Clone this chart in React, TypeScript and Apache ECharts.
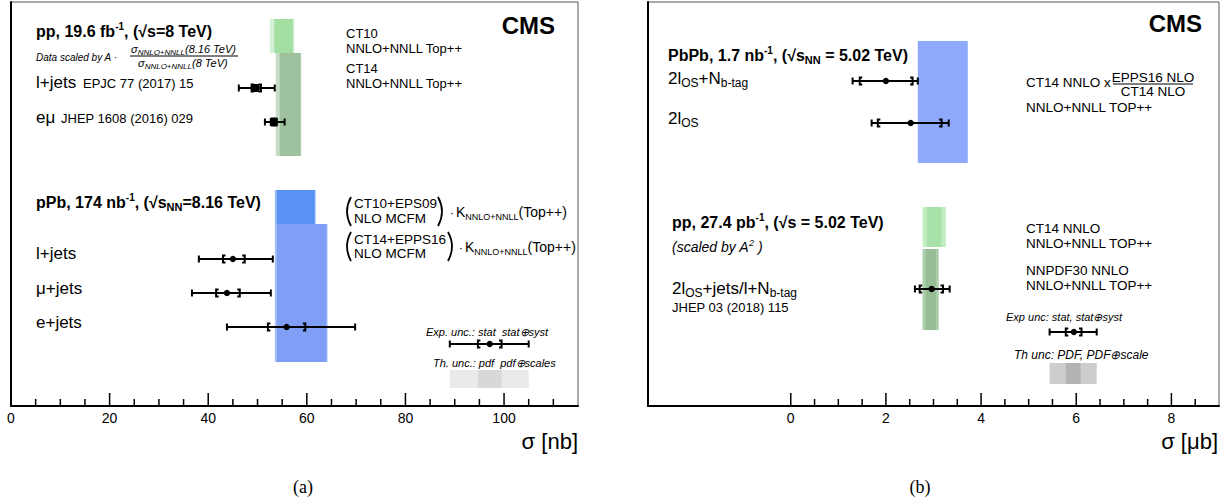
import React, { useEffect, useRef } from 'react';
import * as echarts from 'echarts';

const FONT = '"Liberation Sans", Arial, Helvetica, sans-serif';
const SERIF = '"Liberation Serif", "Times New Roman", serif';

// ---------------- panel (a): sigma(tt) in nb ----------------
const aTickMajor = [0, 20, 40, 60, 80, 100];
const aTickMinor = [5, 10, 15, 25, 30, 35, 45, 50, 55, 65, 70, 75, 85, 90, 95, 105, 110];

// pp at 8 TeV, scaled to 8.16 TeV
const ppLabels = ['l+jets', 'eμ'];
const ppRefs = ['EPJC 77 (2017) 15', 'JHEP 1608 (2016) 029'];
const ppCentral = [49.6, 53.3];
const ppStat = [[48.8, 50.7], [52.9, 53.8]];
const ppTotal = [[46.2, 53.5], [51.5, 55.5]];

// pPb at 8.16 TeV
const pPbLabels = ['l+jets', 'μ+jets', 'e+jets'];
const pPbCentral = [45.0, 43.8, 55.9];
const pPbStat = [[43.0, 47.4], [41.6, 46.4], [52.1, 59.7]];
const pPbTotal = [[38.1, 53.1], [36.7, 52.7], [43.8, 69.8]];

// theory: pp (CT10, CT14) and pPb (CT10+EPS09, CT14+EPPS16)
const ppTheoryPdf = [[53.4, 57.2], [54.5, 58.7]];
const ppTheoryTotal = [[52.5, 57.5], [53.7, 58.9]];
const pPbTheoryPdf = [[53.9, 61.6], [53.9, 64.0]];
const pPbTheoryTotal = [[53.5, 61.8], [53.5, 64.2]];

// legend glyphs
const aExpLegend = { central: 97.1, stat: [94.7, 99.5], total: [89.0, 105.0] };
const aThLegend = { pdf: [94.7, 99.5], total: [89.0, 105.0] };

// ---------------- panel (b): sigma(tt) in μb ----------------
const bTickMajor = [0, 2, 4, 6, 8];
const bTickMinor = [0.5, 1, 1.5, 2.5, 3, 3.5, 4.5, 5, 5.5, 6.5, 7, 7.5, 8.5];

// PbPb at 5.02 TeV
const pbpbCentral = [2.0, 2.52];
const pbpbStat = [[1.45, 2.56], [1.83, 3.17]];
const pbpbTotal = [[1.3, 2.67], [1.7, 3.32]];
const pbpbTheory = [2.67, 3.72];

// pp at 5.02 TeV scaled by A^2
const pp5Central = [2.96];
const pp5Stat = [[2.71, 3.2]];
const pp5Total = [[2.61, 3.34]];
const pp5TheoryPdf = [[2.86, 3.17], [2.84, 3.05]];
const pp5TheoryTotal = [[2.77, 3.26], [2.77, 3.11]];

const bExpLegend = { central: 5.95, stat: [5.78, 6.11], total: [5.44, 6.43] };
const bThLegend = { pdf: [5.78, 6.09], total: [5.44, 6.43] };

// ---------------- layout (page rows, px) ----------------
const AXIS_Y = 406;
const aRowsPP = [88, 122];
const aRowsPPb = [259, 293, 327];
const aBandsPP = [[19, 53], [53, 156]];
const aBandsPPb = [[190, 224], [224, 362]];
const aExpRow = 344;
const aThRow = [370, 388];

const bRowsPbPb = [81, 123];
const bBandPbPb = [41, 163];
const bRowsPP = [289];
const bBandsPP = [[207, 247], [249, 330]];
const bExpRow = 332;
const bThRow = [363, 384];

// colours
const C = {
  ct10: ['#d5f1d5', '#a3dfa3'],
  ct14: ['#c8dcc8', '#9dc19d'],
  eps09: ['#9dbdf6', '#5892f2'],
  epps16: ['#adc1f9', '#7f9ff7'],
  pbpb: '#8ea8fb',
  ct14b: ['#c4edc4', '#a8e2a8'],
  nnpdf: ['#abcdab', '#96bd96'],
  thA: ['#eaeaea', '#d8d8d8'],
  thB: ['#cdcdcd', '#b3b3b3'],
};

const bandItem = (lo: number, hi: number, rows: number[], color: string) => ({
  value: [lo, hi, rows[0], rows[1]],
  itemStyle: { color },
});

const barItem = (central: number, stat: number[], total: number[], y: number) => [
  central, stat[0], stat[1], total[0], total[1], y,
];

const renderBand = (params: any, api: any) => {
  const p0 = api.coord([api.value(0), api.value(2)]);
  const p1 = api.coord([api.value(1), api.value(3)]);
  return {
    type: 'rect',
    shape: {
      x: Math.min(p0[0], p1[0]),
      y: Math.min(p0[1], p1[1]),
      width: Math.abs(p1[0] - p0[0]),
      height: Math.abs(p1[1] - p0[1]),
    },
    style: { fill: api.visual('color') },
  };
};

const renderBar = (marker: 'circle' | 'square') => (params: any, api: any) => {
  const y = api.value(5);
  const c = api.coord([api.value(0), y]);
  const sl = api.coord([api.value(1), y])[0];
  const sh = api.coord([api.value(2), y])[0];
  const tl = api.coord([api.value(3), y])[0];
  const th = api.coord([api.value(4), y])[0];
  const yy = c[1];
  const h = 3.5;
  const s = 2.5;
  const ls = { stroke: '#000', lineWidth: 2, fill: 'none' };
  const children: any[] = [
    { type: 'line', shape: { x1: tl, y1: yy, x2: th, y2: yy }, style: ls },
    { type: 'line', shape: { x1: tl, y1: yy - h, x2: tl, y2: yy + h }, style: ls },
    { type: 'line', shape: { x1: th, y1: yy - h, x2: th, y2: yy + h }, style: ls },
    { type: 'polyline', shape: { points: [[sl + s, yy - h], [sl, yy - h], [sl, yy + h], [sl + s, yy + h]] }, style: ls },
    { type: 'polyline', shape: { points: [[sh - s, yy - h], [sh, yy - h], [sh, yy + h], [sh - s, yy + h]] }, style: ls },
  ];
  if (marker === 'circle') {
    children.push({ type: 'circle', shape: { cx: c[0], cy: yy, r: 3.2 }, style: { fill: '#000' } });
  } else {
    children.push({ type: 'rect', shape: { x: c[0] - 4, y: yy - 4, width: 8, height: 8 }, style: { fill: '#000' } });
  }
  return { type: 'group', children };
};

const renderTick = (params: any, api: any) => {
  const p = api.coord([api.value(0), api.value(1)]);
  return {
    type: 'line',
    shape: { x1: p[0], y1: p[1], x2: p[0], y2: p[1] - api.value(2) },
    style: { stroke: '#000', lineWidth: 1.5 },
  };
};

const bandSeries = (grid: number, data: any[]) => ({
  type: 'custom', xAxisIndex: grid, yAxisIndex: grid, z: 2, silent: true,
  encode: { x: [0, 1], y: [2, 3] }, renderItem: renderBand, data,
});
const barSeries = (grid: number, marker: 'circle' | 'square', data: any[]) => ({
  type: 'custom', xAxisIndex: grid, yAxisIndex: grid, z: 5, silent: true,
  encode: { x: [0, 3, 4], y: 5 }, renderItem: renderBar(marker), data,
});
const tickSeries = (grid: number, values: number[], len: number) => ({
  type: 'custom', xAxisIndex: grid, yAxisIndex: grid, z: 6, silent: true,
  encode: { x: 0, y: 1 }, renderItem: renderTick,
  data: values.map((v) => [v, AXIS_Y, len]),
});

// ---------------- text helpers ----------------
const rs = (size: number, o: any = {}) => ({
  fontSize: size,
  fontFamily: FONT,
  fontWeight: o.bold ? 'bold' : 'normal',
  fontStyle: o.italic ? 'italic' : 'normal',
  fill: '#000',
  verticalAlign: o.va || 'middle',
  lineHeight: o.lh || Math.round(size * 1.25),
});

const RICH = {
  b: rs(16, { bold: true, lh: 20 }),
  bsup: rs(10, { bold: true, va: 'top', lh: 11 }),
  bsub: rs(11, { bold: true, va: 'bottom', lh: 12 }),
  n: rs(17, { lh: 22 }),
  nsub: rs(12, { va: 'bottom', lh: 12 }),
  i: rs(11, { italic: true, lh: 14 }),
  isub: rs(8, { italic: true, va: 'bottom', lh: 9 }),
  it: rs(14, { italic: true, lh: 18 }),
  itsup: rs(9, { italic: true, va: 'top', lh: 9 }),
  k: rs(14, { lh: 18 }),
  ks: rs(9, { va: 'bottom', lh: 10 }),
};

const text = (x: number, y: number, t: string, o: any = {}) => ({
  type: 'text',
  x,
  y,
  silent: true,
  z: 20,
  style: {
    text: t,
    fill: '#000',
    fontSize: o.size || 13,
    fontWeight: o.bold ? 'bold' : 'normal',
    fontStyle: o.italic ? 'italic' : 'normal',
    fontFamily: o.family || FONT,
    align: o.align || 'left',
    verticalAlign: 'middle',
    textAlign: o.align || 'left',
    textVerticalAlign: 'middle',
    rich: RICH,
  },
});

const hline = (x1: number, x2: number, y: number) => ({
  type: 'line', silent: true, z: 20,
  shape: { x1, y1: y, x2, y2: y },
  style: { stroke: '#000', lineWidth: 1 },
});

// tall round bracket spanning two text lines; dir -1 opens right "(", +1 opens left ")"
const paren = (x: number, top: number, bottom: number, dir: number) => ({
  type: 'bezierCurve', silent: true, z: 20,
  shape: { x1: x, y1: top, x2: x, y2: bottom, cpx1: x + dir * 8, cpy1: (top + bottom) / 2 },
  style: { stroke: '#000', lineWidth: 1.8, fill: 'none' },
});

function buildOption() {
  const aBands = [
    bandItem(ppTheoryTotal[0][0], ppTheoryTotal[0][1], aBandsPP[0], C.ct10[0]),
    bandItem(ppTheoryPdf[0][0], ppTheoryPdf[0][1], aBandsPP[0], C.ct10[1]),
    bandItem(ppTheoryTotal[1][0], ppTheoryTotal[1][1], aBandsPP[1], C.ct14[0]),
    bandItem(ppTheoryPdf[1][0], ppTheoryPdf[1][1], aBandsPP[1], C.ct14[1]),
    bandItem(pPbTheoryTotal[0][0], pPbTheoryTotal[0][1], aBandsPPb[0], C.eps09[0]),
    bandItem(pPbTheoryPdf[0][0], pPbTheoryPdf[0][1], aBandsPPb[0], C.eps09[1]),
    bandItem(pPbTheoryTotal[1][0], pPbTheoryTotal[1][1], aBandsPPb[1], C.epps16[0]),
    bandItem(pPbTheoryPdf[1][0], pPbTheoryPdf[1][1], aBandsPPb[1], C.epps16[1]),
    bandItem(aThLegend.total[0], aThLegend.total[1], aThRow, C.thA[0]),
    bandItem(aThLegend.pdf[0], aThLegend.pdf[1], aThRow, C.thA[1]),
  ];
  const aPP = ppCentral.map((c, i) => barItem(c, ppStat[i], ppTotal[i], aRowsPP[i]));
  const aPPb = pPbCentral.map((c, i) => barItem(c, pPbStat[i], pPbTotal[i], aRowsPPb[i]));
  aPPb.push(barItem(aExpLegend.central, aExpLegend.stat, aExpLegend.total, aExpRow));

  const bBands = [
    bandItem(pbpbTheory[0], pbpbTheory[1], bBandPbPb, C.pbpb),
    bandItem(pp5TheoryTotal[0][0], pp5TheoryTotal[0][1], bBandsPP[0], C.ct14b[0]),
    bandItem(pp5TheoryPdf[0][0], pp5TheoryPdf[0][1], bBandsPP[0], C.ct14b[1]),
    bandItem(pp5TheoryTotal[1][0], pp5TheoryTotal[1][1], bBandsPP[1], C.nnpdf[0]),
    bandItem(pp5TheoryPdf[1][0], pp5TheoryPdf[1][1], bBandsPP[1], C.nnpdf[1]),
    bandItem(bThLegend.total[0], bThLegend.total[1], bThRow, C.thB[0]),
    bandItem(bThLegend.pdf[0], bThLegend.pdf[1], bThRow, C.thB[1]),
  ];
  const bBars = pbpbCentral.map((c, i) => barItem(c, pbpbStat[i], pbpbTotal[i], bRowsPbPb[i]));
  pp5Central.forEach((c, i) => bBars.push(barItem(c, pp5Stat[i], pp5Total[i], bRowsPP[i])));
  bBars.push(barItem(bExpLegend.central, bExpLegend.stat, bExpLegend.total, bExpRow));

  const axisLabel = { color: '#000', fontSize: 14, fontFamily: FONT, margin: 5 };
  const xBase = {
    type: 'value',
    axisLine: { show: true, onZero: false, lineStyle: { color: '#000', width: 2 } },
    axisTick: { show: false },
    splitLine: { show: false },
  };
  const yBase = {
    type: 'value', min: 2, max: AXIS_Y, inverse: true,
    axisLine: { show: true, onZero: false, lineStyle: { color: '#000', width: 2 } },
    axisTick: { show: false }, axisLabel: { show: false }, splitLine: { show: false },
  };

  const graphics: any[] = [
    // panel (a)
    text(36, 31, '{b|pp, 19.6 fb}{bsup|-1}{b|, (√s=8 TeV)}'),
    text(36, 57, 'Data scaled by A ·', { size: 10, italic: true }),
    text(131, 49, '{i|σ}{isub|NNLO+NNLL}{i|(8.16 TeV)}'),
    hline(130, 238, 56),
    text(138, 63, '{i|σ}{isub|NNLO+NNLL}{i|(8 TeV)}'),
    text(36, aRowsPP[0] - 6, ppLabels[0], { size: 17 }),
    text(83, aRowsPP[0] - 5, ppRefs[0], { size: 13 }),
    text(36, aRowsPP[1] - 5, ppLabels[1], { size: 17 }),
    text(61, aRowsPP[1] - 4, ppRefs[1], { size: 13 }),
    text(346, 33, 'CT10', { size: 13 }),
    text(346, 48, 'NNLO+NNLL Top++', { size: 13 }),
    text(346, 68, 'CT14', { size: 13 }),
    text(346, 83, 'NNLO+NNLL Top++', { size: 13 }),
    text(555, 25, 'CMS', { size: 24, bold: true, align: 'right' }),
    text(36, 202, '{b|pPb, 174 nb}{bsup|-1}{b|, (√s}{bsub|NN}{b|=8.16 TeV)}'),
    text(36, aRowsPPb[0] - 6, pPbLabels[0], { size: 17 }),
    text(36, aRowsPPb[1] - 5, pPbLabels[1], { size: 17 }),
    text(36, aRowsPPb[2] - 5, pPbLabels[2], { size: 17 }),
    paren(351, 197, 226, -1),
    text(354, 203, 'CT10+EPS09', { size: 13.5 }),
    text(354, 218, 'NLO MCFM', { size: 13.5 }),
    paren(438, 197, 226, 1),
    text(450, 213, '·', { size: 12 }),
    text(456, 212, '{k|K}{ks|NNLO+NNLL}{k|(Top++)}'),
    paren(351, 232, 261, -1),
    text(354, 239, 'CT14+EPPS16', { size: 13.5 }),
    text(354, 253, 'NLO MCFM', { size: 13.5 }),
    paren(448, 232, 261, 1),
    text(459, 248, '·', { size: 12 }),
    text(465, 247, '{k|K}{ks|NNLO+NNLL}{k|(Top++)}'),
    text(426, 332, 'Exp. unc.: stat  stat⊕syst', { size: 11, italic: true }),
    text(433, 363, 'Th. unc.: pdf  pdf⊕scales', { size: 11, italic: true }),
    text(578, 441, 'σ [nb]', { size: 22, align: 'right' }),
    text(303, 487, '(a)', { size: 18, family: SERIF, align: 'center' }),

    // panel (b)
    text(1202, 23, 'CMS', { size: 24, bold: true, align: 'right' }),
    text(668, 55, '{b|PbPb, 1.7 nb}{bsup|-1}{b|, (√s}{bsub|NN}{b| = 5.02 TeV)}'),
    text(668, bRowsPbPb[0] - 3, '{n|2l}{nsub|OS}{n|+N}{nsub|b-tag}'),
    text(668, bRowsPbPb[1] - 5, '{n|2l}{nsub|OS}'),
    text(1026, 82, 'CT14 NNLO x', { size: 13.5 }),
    text(1153, 77, 'EPPS16 NLO', { size: 13.5, align: 'center' }),
    hline(1113, 1193, 84),
    text(1153, 91, 'CT14 NLO', { size: 13.5, align: 'center' }),
    text(1026, 107, 'NNLO+NNLL TOP++', { size: 13.5 }),
    text(672, 222, '{b|pp, 27.4 pb}{bsup|-1}{b|, (√s = 5.02 TeV)}'),
    text(672, 247, '{it|(scaled by A}{itsup|2}{it| )}'),
    text(672, bRowsPP[0] - 1, '{n|2l}{nsub|OS}{n|+jets/l+N}{nsub|b-tag}'),
    text(672, 307, 'JHEP 03 (2018) 115', { size: 13 }),
    text(1026, 228, 'CT14 NNLO', { size: 13.5 }),
    text(1026, 243, 'NNLO+NNLL TOP++', { size: 13.5 }),
    text(1026, 270, 'NNPDF30 NNLO', { size: 13.5 }),
    text(1026, 285, 'NNLO+NNLL TOP++', { size: 13.5 }),
    text(1006, 317, 'Exp unc: stat, stat⊕syst', { size: 11, italic: true }),
    text(1014, 355, 'Th unc: PDF, PDF⊕scale', { size: 12, italic: true }),
    text(1218, 441, 'σ [μb]', { size: 22, align: 'right' }),
    text(920, 487, '(b)', { size: 18, family: SERIF, align: 'center' }),
  ];

  return {
    animation: false,
    backgroundColor: '#fff',
    grid: [
      { left: 11, top: 2, width: 567, height: 404, show: true, borderColor: '#555', borderWidth: 1, containLabel: false },
      { left: 648, top: 2, width: 571, height: 404, show: true, borderColor: '#555', borderWidth: 1, containLabel: false },
    ],
    xAxis: [
      {
        ...xBase, gridIndex: 0, min: 0, max: 115, interval: 20,
        axisLabel: { ...axisLabel, showMaxLabel: false },
      },
      {
        ...xBase, gridIndex: 1, min: -3, max: 9, interval: 1,
        axisLabel: {
          ...axisLabel,
          formatter: (v: number) => (v >= 0 && v <= 8 && Math.round(v) % 2 === 0 ? String(v) : ''),
        },
      },
    ],
    yAxis: [
      { ...yBase, gridIndex: 0 },
      { ...yBase, gridIndex: 1 },
    ],
    series: [
      bandSeries(0, aBands),
      barSeries(0, 'square', aPP),
      barSeries(0, 'circle', aPPb),
      tickSeries(0, aTickMajor, 13),
      tickSeries(0, aTickMinor, 7),
      bandSeries(1, bBands),
      barSeries(1, 'circle', bBars),
      tickSeries(1, bTickMajor, 13),
      tickSeries(1, bTickMinor, 7),
    ],
    graphic: graphics,
  };
}

export default function App() {
  const ref = useRef<HTMLDivElement>(null);
  useEffect(() => {
    if (!ref.current) return undefined;
    const chart = echarts.init(ref.current, null, { renderer: 'svg' });
    chart.setOption(buildOption() as any);
    return () => chart.dispose();
  }, []);
  return (
    <div
      ref={ref}
      style={{ position: 'fixed', left: 0, top: 0, width: 1230, height: 500, background: '#fff' }}
    />
  );
}
